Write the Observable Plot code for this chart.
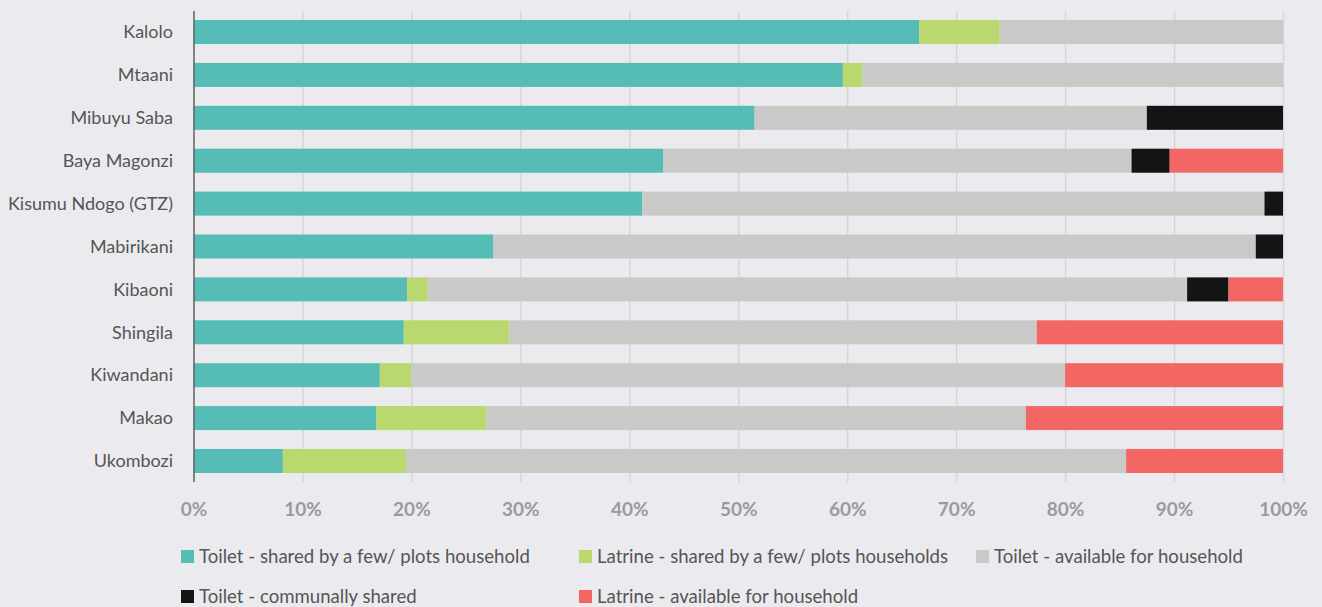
<!DOCTYPE html>
<html>
<head>
<meta charset="utf-8">
<script src="https://cdn.jsdelivr.net/npm/d3@7"></script>
<script src="https://cdn.jsdelivr.net/npm/@observablehq/plot@0.6"></script>
<style>
  html, body { margin: 0; padding: 0; background: #ebebef; }
  body { width: 1322px; height: 607px; overflow: hidden; font-family: Lato, "Open Sans", sans-serif; }
  #legend { position: relative; height: 77px; }
  .item { position: absolute; display: flex; align-items: center; font-size: 18.6px; color: #555; white-space: nowrap; }
  .sw { width: 13px; height: 13px; margin-right: 5px; }
</style>
</head>
<body>
<div id="chart"></div>
<div id="legend"></div>
<script>
const categories = ["Kalolo", "Mtaani", "Mibuyu Saba", "Baya Magonzi", "Kisumu Ndogo (GTZ)", "Mabirikani", "Kibaoni", "Shingila", "Kiwandani", "Makao", "Ukombozi"];
const seriesNames = [
  "Toilet - shared by a few/ plots household",
  "Latrine - shared by a few/ plots households",
  "Toilet - available for household",
  "Toilet - communally shared",
  "Latrine - available for household"
];
const seriesColors = ["#55bdb5", "#b9d86e", "#c9cac8", "#141414", "#f26764"];
const toiletShared     = [66.6, 59.6, 51.5, 43.1, 41.2, 27.5, 19.6, 19.3, 17.1, 16.8, 8.2];
const latrineShared    = [7.4, 1.8, 0, 0, 0, 0, 1.9, 9.7, 2.9, 10.1, 11.3];
const toiletHousehold  = [26.0, 38.6, 36.0, 43.0, 57.1, 70.0, 69.7, 48.4, 60.0, 49.5, 66.1];
const toiletCommunal   = [0, 0, 12.5, 3.5, 1.7, 2.5, 3.8, 0, 0, 0, 0];
const latrineHousehold = [0, 0, 0, 10.4, 0, 0, 5.0, 22.6, 20.0, 23.6, 14.4];
const xTicks = [0, 10, 20, 30, 40, 50, 60, 70, 80, 90, 100];

const seriesValues = [toiletShared, latrineShared, toiletHousehold, toiletCommunal, latrineHousehold];
const data = [];
seriesNames.forEach((s, si) => {
  categories.forEach((c, ci) => {
    data.push({category: c, series: s, value: seriesValues[si][ci]});
  });
});

const chart = Plot.plot({
  width: 1322,
  height: 530,
  marginLeft: 193.5,
  marginRight: 39,
  marginTop: 11,
  marginBottom: 48,
  style: {background: "#ebebef", fontFamily: "Lato, 'Open Sans', sans-serif"},
  x: {domain: [0, 100], ticks: xTicks, tickFormat: d => d + "%", label: null, grid: false},
  y: {domain: categories, paddingInner: 0.44, paddingOuter: 0.21, round: false, label: null},
  color: {domain: seriesNames, range: seriesColors},
  marks: [
    Plot.gridX(xTicks, {stroke: "#d6d6da", strokeOpacity: 1, strokeWidth: 1.5}),
    Plot.barX(data, Plot.stackX({x: "value", y: "category", fill: "series", order: seriesNames})),
    Plot.ruleX([0], {stroke: "#666", strokeWidth: 1.5}),
    Plot.axisX({ticks: xTicks, tickFormat: d => d + "%", tickSize: 0, tickPadding: 20, fontSize: 19, fontWeight: "bold", fill: "#9a9a9c", label: null}),
    Plot.axisY({tickSize: 0, tickPadding: 21, fontSize: 18, fill: "#555", label: null})
  ]
});
document.getElementById("chart").appendChild(chart);

const legend = document.getElementById("legend");
const positions = [[181, 27], [579, 27], [976, 27], [181, 67], [579, 67]];
seriesNames.forEach((s, i) => {
  const it = document.createElement("div");
  it.className = "item";
  it.style.left = positions[i][0] + "px";
  it.style.top = (positions[i][1] - 12) + "px";
  const sw = document.createElement("span");
  sw.className = "sw";
  sw.style.background = seriesColors[i];
  const tx = document.createElement("span");
  tx.textContent = s;
  it.appendChild(sw);
  it.appendChild(tx);
  legend.appendChild(it);
});
</script>
</body>
</html>
